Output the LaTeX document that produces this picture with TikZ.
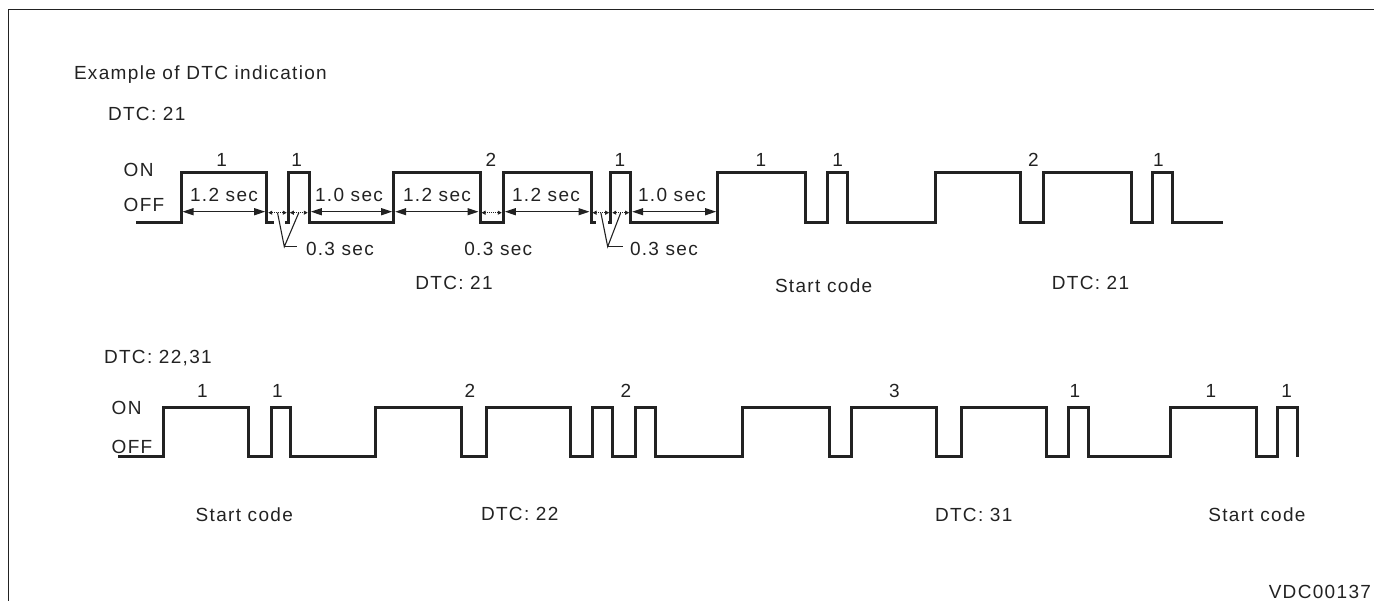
\documentclass[tikz,border=0pt]{standalone}
\usepackage{fontspec}
\setmainfont{Liberation Sans}[LetterSpace=7]
\usetikzlibrary{arrows.meta,calc}
\definecolor{ink}{HTML}{222222}
\begin{document}
\begin{tikzpicture}[x=1pt,y=-1pt,
  every node/.style={inner sep=0pt, outer sep=0pt, text=ink, font=\fontsize{19}{21}\selectfont},
  wave/.style={line width=3pt, draw=ink, line join=miter},
  frameline/.style={line width=1.5pt, draw=ink},
  dimarrow/.style={line width=1.3pt, draw=ink, {Triangle[length=11pt,width=7pt]}-{Triangle[length=11pt,width=7pt]}},
  smallarrow/.style={line width=1pt, draw=ink, densely dotted, {Triangle[length=4pt,width=4pt]}-{Triangle[length=4pt,width=4pt]}},
  leader/.style={line width=1.1pt, draw=ink},
  lbl/.style={anchor=base west},
  rlbl/.style={anchor=base east},
  clbl/.style={anchor=base}]
\useasboundingbox (0,0) rectangle (1374,601);
% frame
\draw[frameline] (8.3,601) -- (8.3,9.7) -- (1374,9.7);

% titles
\node[lbl] (title) at (74,80) {Example of DTC indication};
\node[lbl] (dtcA) at (108,120.8) {DTC: 21};
\node[lbl] (onA) at (123.7,176.8) {ON};
\node[lbl] (offA) at (123.7,211.8) {OFF};

% top waveform
\draw[wave] (136,223) -| (181,173) -| (266.7,223) -- (274,223);
\draw[wave] (285,223) -| (288.3,173) -| (309.3,223) -| (393.7,173) -| (480,223) -| (503.3,173) -| (591,223) -- (596,223);
\draw[wave] (608,223) -| (610.7,173) -| (630.7,223) -| (717.7,173) -| (805,223) -| (827.3,173) -| (847.3,223) -| (935,173) -| (1020.7,223) -| (1043.3,173) -| (1131.7,223) -| (1152.3,173) -| (1172.7,223) -- (1223.3,223);

% pulse counts top
\foreach \px/\t [count=\i] in {221.7/1, 296.7/1, 491/2, 620/1, 761/1, 837.7/1, 1033.3/2, 1158.3/1}
  \node[clbl] (cA\i) at (\px,166.8) {\t};

% dimension arrows
\coordinate (d1a) at (182.5,211.7); \coordinate (d1b) at (265.2,211.7);
\coordinate (d2a) at (310.8,211.7); \coordinate (d2b) at (392.2,211.7);
\coordinate (d3a) at (395.2,211.7); \coordinate (d3b) at (478.5,211.7);
\coordinate (d4a) at (504.8,211.7); \coordinate (d4b) at (589.5,211.7);
\coordinate (d5a) at (632.2,211.7); \coordinate (d5b) at (716.2,211.7);
\draw[dimarrow] (d1a) -- (d1b);
\draw[dimarrow] (d2a) -- (d2b);
\draw[dimarrow] (d3a) -- (d3b);
\draw[dimarrow] (d4a) -- (d4b);
\draw[dimarrow] (d5a) -- (d5b);
\node[clbl] (s1) at (224,201.8) {1.2 sec};
\node[clbl] (s2) at (349,201.8) {1.0 sec};
\node[clbl] (s3) at (437,201.8) {1.2 sec};
\node[clbl] (s4) at (546,201.8) {1.2 sec};
\node[clbl] (s5) at (672,201.8) {1.0 sec};

% small dotted arrows
\coordinate (e1a) at (268.2,212.7); \coordinate (e1b) at (286.8,212.7);
\coordinate (e2a) at (289.8,212.7); \coordinate (e2b) at (307.8,212.7);
\coordinate (e3a) at (481.5,212.7); \coordinate (e3b) at (501.8,212.7);
\coordinate (e4a) at (592.5,212.7); \coordinate (e4b) at (609.2,212.7);
\coordinate (e5a) at (612.2,212.7); \coordinate (e5b) at (629.2,212.7);
\draw[smallarrow] (e1a) -- (e1b);
\draw[smallarrow] (e2a) -- (e2b);
\draw[smallarrow] (e3a) -- (e3b);
\draw[smallarrow] (e4a) -- (e4b);
\draw[smallarrow] (e5a) -- (e5b);

% leaders
\coordinate (k1) at (284.3,246.7);
\coordinate (k2) at (607.7,246.7);
\node[lbl] (z1) at (306,255.8) {0.3 sec};
\node[clbl] (z2) at (498.3,255.8) {0.3 sec};
\node[lbl] (z3) at (630,255.8) {0.3 sec};
\draw[leader] ($(e1a)!0.5!(e1b)$) -- (k1) -- ($(e2a)!0.5!(e2b)$);
\draw[leader] (k1) -- (297,246.7);
\draw[leader] ($(e4a)!0.5!(e4b)$) -- (k2) -- ($(e5a)!0.5!(e5b)$);
\draw[leader] (k2) -- (623,246.7);

\node[clbl] (dtcB) at (454,290) {DTC: 21};
\node[lbl] (startA) at (775,292.8) {Start code};
\node[clbl] (dtcC) at (1090.5,290) {DTC: 21};

% second diagram
\node[lbl] (dtcD) at (104,363.8) {DTC: 22,31};
\node[lbl] (onB) at (111.7,414.8) {ON};
\node[lbl] (offB) at (111.7,453.5) {OFF};

\draw[wave] (118.3,456.7) -| (163.3,407.3) -| (248.3,456.7) -| (271,407.3) -| (290.7,456.7) -| (375.7,407.3) -| (461.7,456.7) -| (486,407.3) -| (570.7,456.7) -| (592.7,407.3) -| (612.7,456.7) -| (635.7,407.3) -| (655.7,456.7) -| (742.3,407.3) -| (829,456.7) -| (851,407.3) -| (936,456.7) -| (961,407.3) -| (1046.7,456.7) -| (1068.3,407.3) -| (1088.3,456.7) -| (1170,407.3) -| (1256,456.7) -| (1277.7,407.3) -| (1297.3,456.7);

\foreach \px/\t [count=\i] in {202.3/1, 277.3/1, 470/2, 626/2, 894.3/3, 1075/1, 1211/1, 1286.7/1}
  \node[clbl] (cB\i) at (\px,397.8) {\t};

\node[lbl] (startB) at (195.7,521) {Start code};
\node[lbl] (dtcE) at (481,520.8) {DTC: 22};
\node[lbl] (dtcF) at (935,521.8) {DTC: 31};
\node[lbl] (startC) at (1208.3,521.8) {Start code};
\node[rlbl] (fig) at (1371,598.5) {VDC00137};
\end{tikzpicture}
\end{document}
